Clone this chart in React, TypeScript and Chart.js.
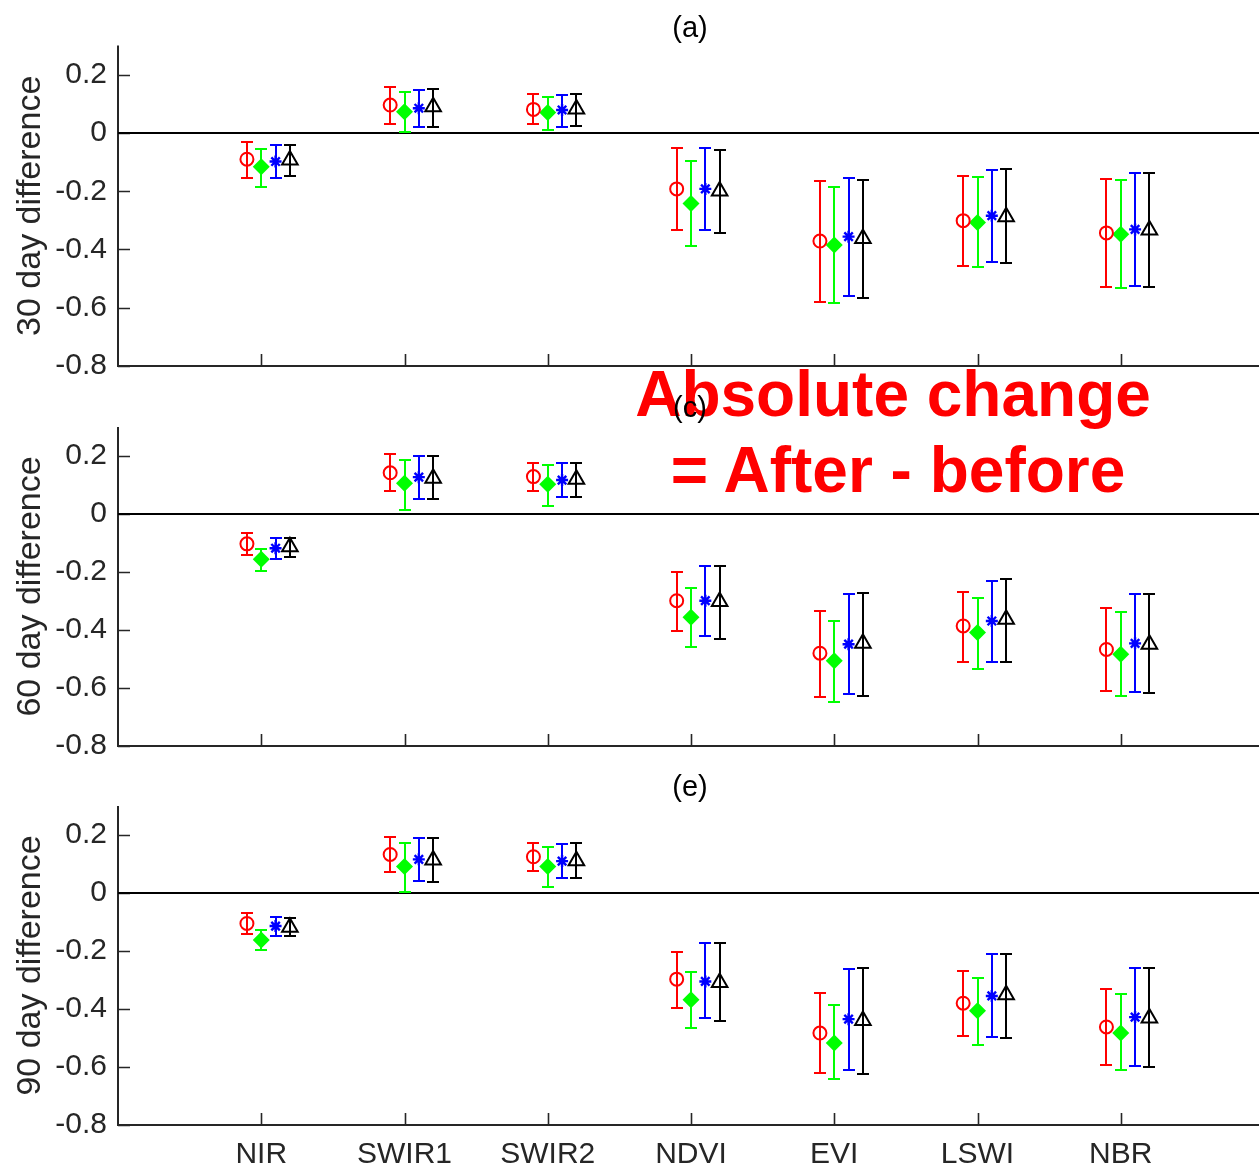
import React, { useEffect, useRef } from 'react';
import { Chart, registerables } from 'chart.js';

Chart.register(...registerables);

// ---------------- data ----------------
const categories = ['NIR', 'SWIR1', 'SWIR2', 'NDVI', 'EVI', 'LSWI', 'NBR'];
const yTickValues = [-0.8, -0.6, -0.4, -0.2, 0, 0.2];
const seriesColors = ['#ff0000', '#00ff00', '#0000ff', '#000000'];
const seriesOffsets = [-0.1, 0, 0.1, 0.2];
const seriesMarkers = ['circle', 'rectRot', 'star', 'triangle'];

// 30 day difference (a): [red, green, blue, black]
const mean30 = [
  [-0.090, 0.096, 0.081, -0.192, -0.371, -0.301, -0.343],
  [-0.116, 0.073, 0.070, -0.242, -0.385, -0.307, -0.348],
  [-0.098, 0.085, 0.079, -0.192, -0.356, -0.284, -0.331],
  [-0.093, 0.090, 0.082, -0.199, -0.362, -0.288, -0.333],
];
const upper30 = [
  [-0.030, 0.157, 0.134, -0.050, -0.164, -0.147, -0.157],
  [-0.056, 0.140, 0.125, -0.096, -0.187, -0.151, -0.162],
  [-0.041, 0.148, 0.131, -0.050, -0.156, -0.127, -0.136],
  [-0.041, 0.152, 0.134, -0.058, -0.162, -0.125, -0.139],
];
const lower30 = [
  [-0.156, 0.031, 0.030, -0.333, -0.581, -0.458, -0.530],
  [-0.184, 0.005, 0.010, -0.387, -0.584, -0.459, -0.532],
  [-0.156, 0.019, 0.022, -0.333, -0.558, -0.444, -0.524],
  [-0.148, 0.019, 0.024, -0.343, -0.568, -0.448, -0.529],
];

// 60 day difference (c)
const mean60 = [
  [-0.103, 0.142, 0.129, -0.299, -0.480, -0.386, -0.467],
  [-0.156, 0.106, 0.103, -0.356, -0.506, -0.409, -0.484],
  [-0.118, 0.127, 0.117, -0.299, -0.449, -0.369, -0.446],
  [-0.113, 0.123, 0.120, -0.302, -0.446, -0.363, -0.449],
];
const upper60 = [
  [-0.067, 0.207, 0.177, -0.199, -0.334, -0.268, -0.325],
  [-0.120, 0.186, 0.169, -0.254, -0.368, -0.289, -0.339],
  [-0.084, 0.200, 0.175, -0.178, -0.277, -0.231, -0.277],
  [-0.084, 0.200, 0.177, -0.178, -0.273, -0.224, -0.276],
];
const lower60 = [
  [-0.141, 0.079, 0.080, -0.402, -0.630, -0.511, -0.609],
  [-0.195, 0.014, 0.029, -0.458, -0.647, -0.536, -0.626],
  [-0.154, 0.052, 0.060, -0.421, -0.621, -0.511, -0.613],
  [-0.147, 0.051, 0.057, -0.432, -0.628, -0.511, -0.616],
];

// 90 day difference (e)
const mean90 = [
  [-0.105, 0.133, 0.125, -0.297, -0.483, -0.380, -0.462],
  [-0.162, 0.091, 0.091, -0.368, -0.517, -0.406, -0.483],
  [-0.114, 0.116, 0.110, -0.305, -0.435, -0.355, -0.428],
  [-0.118, 0.114, 0.111, -0.309, -0.440, -0.351, -0.431],
];
const upper90 = [
  [-0.070, 0.194, 0.171, -0.202, -0.345, -0.269, -0.332],
  [-0.128, 0.173, 0.157, -0.271, -0.386, -0.292, -0.348],
  [-0.084, 0.191, 0.169, -0.173, -0.263, -0.211, -0.259],
  [-0.087, 0.191, 0.171, -0.171, -0.259, -0.210, -0.257],
];
const lower90 = [
  [-0.142, 0.073, 0.077, -0.397, -0.621, -0.492, -0.592],
  [-0.197, 0.005, 0.020, -0.466, -0.641, -0.523, -0.609],
  [-0.148, 0.041, 0.053, -0.431, -0.609, -0.498, -0.598],
  [-0.148, 0.039, 0.051, -0.443, -0.623, -0.500, -0.601],
];

const FONT = "'Liberation Sans', Arial, Helvetica, sans-serif";
const AXIS_COLOR = '#262626';

// ---------------- plugins ----------------
const framePlugin = {
  id: 'frame',
  beforeDatasetsDraw(chart: any) {
    const { ctx, chartArea, scales } = chart;
    const { left, right, top, bottom } = chartArea;
    const x = scales.x;
    const y = scales.y;
    ctx.save();
    ctx.strokeStyle = AXIS_COLOR;
    ctx.lineWidth = 2;
    ctx.beginPath();
    ctx.moveTo(left, top);
    ctx.lineTo(left, bottom);
    ctx.lineTo(right, bottom);
    ctx.stroke();
    ctx.lineWidth = 1.6;
    ctx.beginPath();
    y.ticks.forEach((t: any) => {
      const py = Math.round(y.getPixelForValue(t.value)) + 0.5;
      ctx.moveTo(left, py);
      ctx.lineTo(left + 12, py);
    });
    x.ticks.forEach((t: any) => {
      const px = Math.round(x.getPixelForValue(t.value)) + 0.5;
      ctx.moveTo(px, bottom);
      ctx.lineTo(px, bottom - 12);
    });
    ctx.stroke();
    // zero reference line
    const zy = y.getPixelForValue(0);
    ctx.strokeStyle = '#000000';
    ctx.lineWidth = 2;
    ctx.beginPath();
    ctx.moveTo(left, zy);
    ctx.lineTo(right, zy);
    ctx.stroke();
    ctx.restore();
  },
};

const errorBarPlugin = {
  id: 'errbars',
  beforeDatasetsDraw(chart: any) {
    const { ctx, scales } = chart;
    const x = scales.x;
    const y = scales.y;
    chart.data.datasets.forEach((ds: any) => {
      ctx.save();
      ctx.strokeStyle = ds.borderColor;
      ctx.lineWidth = 2;
      ctx.beginPath();
      ds.data.forEach((p: any) => {
        const px = Math.round(x.getPixelForValue(p.x));
        const yl = Math.round(y.getPixelForValue(p.lo));
        const yh = Math.round(y.getPixelForValue(p.hi));
        ctx.moveTo(px, yl);
        ctx.lineTo(px, yh);
        ctx.moveTo(px - 6, yl);
        ctx.lineTo(px + 6, yl);
        ctx.moveTo(px - 6, yh);
        ctx.lineTo(px + 6, yh);
      });
      ctx.stroke();
      ctx.restore();
    });
  },
};

// ---------------- panel ----------------
type PanelProps = {
  top: number;
  height: number;
  padTop: number;
  xAxisHeight: number;
  yTitle: string;
  showXLabels: boolean;
  means: number[][];
  uppers: number[][];
  lowers: number[][];
};

const markerRadius = [6.5, 8.5, 6, 9];

function Panel(props: PanelProps) {
  const ref = useRef<HTMLCanvasElement | null>(null);
  useEffect(() => {
    if (!ref.current) return;
    const datasets = props.means.map((m, s) => ({
      label: 'series' + s,
      data: m.map((v, i) => ({
        x: i + 1 + seriesOffsets[s],
        y: v,
        lo: props.lowers[s][i],
        hi: props.uppers[s][i],
      })),
      borderColor: seriesColors[s],
      backgroundColor: s === 1 ? seriesColors[s] : 'rgba(0,0,0,0)',
      pointStyle: seriesMarkers[s],
      pointRadius: markerRadius[s],
      pointBorderWidth: s === 1 ? 0 : s === 2 ? 2.4 : 2,
      pointBackgroundColor: s === 1 ? seriesColors[s] : 'rgba(0,0,0,0)',
      pointBorderColor: seriesColors[s],
      showLine: false,
    }));
    const chart = new Chart(ref.current, {
      type: 'scatter',
      data: { datasets },
      plugins: [framePlugin, errorBarPlugin],
      options: {
        animation: false,
        responsive: false,
        devicePixelRatio: 1,
        layout: { autoPadding: false, padding: { top: props.padTop, left: 0, right: 0, bottom: 0 } },
        plugins: {
          legend: { display: false },
          tooltip: { enabled: false },
          title: { display: false },
        },
        scales: {
          x: {
            type: 'linear',
            min: 0,
            max: 8,
            grid: { display: false, drawTicks: false },
            border: { display: false },
            afterBuildTicks: (s: any) => {
              s.ticks = categories.map((_, i) => ({ value: i + 1 }));
            },
            afterFit: (s: any) => {
              s.height = props.xAxisHeight;
            },
            ticks: {
              display: props.showXLabels,
              autoSkip: false,
              maxRotation: 0,
              minRotation: 0,
              padding: 12,
              color: AXIS_COLOR,
              font: { family: FONT, size: 30 },
              callback: (v: any) => categories[Math.round(v) - 1] ?? '',
            },
          },
          y: {
            type: 'linear',
            min: -0.8,
            max: 0.3,
            grid: { display: false, drawTicks: false },
            border: { display: false },
            afterBuildTicks: (s: any) => {
              s.ticks = yTickValues.map((v) => ({ value: v }));
            },
            afterFit: (s: any) => {
              s.width = 118;
            },
            ticks: {
              padding: 11,
              color: AXIS_COLOR,
              font: { family: FONT, size: 30 },
              callback: (v: any) => String(Number(Number(v).toFixed(1))),
            },
            title: {
              display: true,
              text: props.yTitle,
              color: AXIS_COLOR,
              font: { family: FONT, size: 34 },
              padding: { top: 10, bottom: 0 },
            },
          },
        },
      } as any,
    });
    return () => chart.destroy();
  }, []);
  return (
    <canvas
      ref={ref}
      width={1264}
      height={props.height}
      style={{ position: 'absolute', left: 0, top: props.top, width: 1264, height: props.height }}
    />
  );
}

const textStyle = (cx: number, top: number, size: number, bold: boolean, color: string): any => ({
  position: 'absolute',
  left: cx - 400,
  width: 800,
  top,
  textAlign: 'center',
  whiteSpace: 'nowrap',
  fontFamily: FONT,
  fontSize: size,
  lineHeight: size + 'px',
  fontWeight: bold ? 'bold' : 'normal',
  color,
});

export default function App() {
  return (
    <div
      style={{
        position: 'absolute',
        left: 0,
        top: 0,
        width: 1259,
        height: 1172,
        overflow: 'hidden',
        background: '#ffffff',
      }}
    >
      <Panel top={0} height={400} padTop={45.6} xAxisHeight={34} yTitle="30 day difference" showXLabels={false} means={mean30} uppers={upper30} lowers={lower30} />
      <Panel top={380} height={400} padTop={47} xAxisHeight={34} yTitle="60 day difference" showXLabels={false} means={mean60} uppers={upper60} lowers={lower60} />
      <Panel top={760} height={412} padTop={46} xAxisHeight={47} yTitle="90 day difference" showXLabels={true} means={mean90} uppers={upper90} lowers={lower90} />
      <div style={textStyle(893, 362, 64, true, '#ff0000')}>Absolute change</div>
      <div style={textStyle(898, 438, 64, true, '#ff0000')}>= After - before</div>
      <div style={textStyle(690, 13, 29, false, '#000000')}>(a)</div>
      <div style={textStyle(690, 393, 29, false, '#000000')}>(c)</div>
      <div style={textStyle(690, 772, 29, false, '#000000')}>(e)</div>
    </div>
  );
}
